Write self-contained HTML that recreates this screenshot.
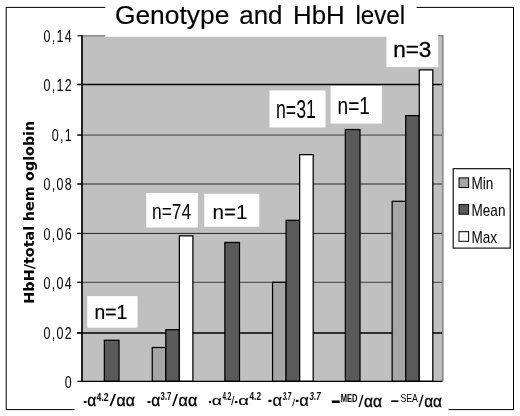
<!DOCTYPE html><html><head><meta charset="utf-8"><title>Genotype and HbH level</title>
<style>html,body{margin:0;padding:0;background:#fff}svg{display:block;filter:blur(0.45px)}text{font-family:"Liberation Sans",sans-serif;fill:#000}.b{font-weight:bold}.dj{font-family:"DejaVu Sans","Liberation Sans",sans-serif;font-weight:bold}</style></head><body>
<svg width="520" height="416" viewBox="0 0 520 416">
<rect x="0" y="0" width="520" height="416" fill="#fff"/>
<rect x="6.2" y="7.4" width="507.3" height="402.20000000000005" fill="none" stroke="#000" stroke-width="1"/>
<rect x="74.5" y="386" width="374.0" height="30" fill="#fff"/>
<rect x="82.0" y="35.3" width="361.5" height="346.0" fill="#c0c0c0"/>
<path d="M82.0 35.8H442.7V381.3" fill="none" stroke="#8a8a8a" stroke-width="1.6"/>
<rect x="105.3" y="0" width="311.3" height="36.8" fill="#fff"/>
<line x1="77.2" y1="84.5" x2="442.0" y2="84.5" stroke="#000" stroke-width="1.6"/>
<line x1="77.2" y1="135.1" x2="442.0" y2="135.1" stroke="#333" stroke-width="0.9"/>
<line x1="77.2" y1="184.0" x2="442.0" y2="184.0" stroke="#222" stroke-width="1.0"/>
<line x1="77.2" y1="233.4" x2="442.0" y2="233.4" stroke="#222" stroke-width="1.0"/>
<line x1="77.2" y1="282.3" x2="442.0" y2="282.3" stroke="#333" stroke-width="0.9"/>
<line x1="77.2" y1="333.0" x2="442.0" y2="333.0" stroke="#000" stroke-width="1.7"/>
<rect x="104.35" y="340.25" width="14.65" height="41.06" fill="#5a5a5a" stroke="#000" stroke-width="1.25"/>
<rect x="152.25" y="347.49" width="13.55" height="33.81" fill="#a6a6a6" stroke="#000" stroke-width="1.25"/>
<rect x="165.80" y="329.70" width="13.55" height="51.60" fill="#5a5a5a" stroke="#000" stroke-width="1.25"/>
<rect x="179.35" y="235.84" width="13.55" height="145.46" fill="#ffffff" stroke="#000" stroke-width="1.25"/>
<rect x="224.85" y="242.45" width="14.65" height="138.85" fill="#5a5a5a" stroke="#000" stroke-width="1.25"/>
<rect x="272.55" y="282.30" width="13.55" height="99.00" fill="#a6a6a6" stroke="#000" stroke-width="1.25"/>
<rect x="286.10" y="220.31" width="13.55" height="160.99" fill="#5a5a5a" stroke="#000" stroke-width="1.25"/>
<rect x="299.65" y="154.66" width="13.55" height="226.64" fill="#ffffff" stroke="#000" stroke-width="1.25"/>
<rect x="345.35" y="129.53" width="14.65" height="251.77" fill="#5a5a5a" stroke="#000" stroke-width="1.25"/>
<rect x="392.15" y="201.29" width="13.55" height="180.01" fill="#a6a6a6" stroke="#000" stroke-width="1.25"/>
<rect x="405.70" y="115.62" width="13.55" height="265.68" fill="#5a5a5a" stroke="#000" stroke-width="1.25"/>
<rect x="419.25" y="69.89" width="13.55" height="311.41" fill="#ffffff" stroke="#000" stroke-width="1.25"/>
<line x1="82.0" y1="35.3" x2="82.0" y2="381.3" stroke="#000" stroke-width="1.7"/>
<line x1="77.4" y1="381.3" x2="442.5" y2="381.3" stroke="#000" stroke-width="1.3"/>
<line x1="77.4" y1="35.8" x2="82.0" y2="35.8" stroke="#000" stroke-width="1.1"/>
<line x1="77.4" y1="84.5" x2="82.0" y2="84.5" stroke="#000" stroke-width="1.1"/>
<line x1="77.4" y1="135.1" x2="82.0" y2="135.1" stroke="#000" stroke-width="1.1"/>
<line x1="77.4" y1="184.0" x2="82.0" y2="184.0" stroke="#000" stroke-width="1.1"/>
<line x1="77.4" y1="233.4" x2="82.0" y2="233.4" stroke="#000" stroke-width="1.1"/>
<line x1="77.4" y1="282.3" x2="82.0" y2="282.3" stroke="#000" stroke-width="1.1"/>
<line x1="77.4" y1="333.0" x2="82.0" y2="333.0" stroke="#000" stroke-width="1.1"/>
<text transform="translate(72.9,42.1) scale(0.72,1)" font-size="17.4" letter-spacing="1.7" text-anchor="end" fill="#222">0,14</text>
<text transform="translate(72.9,90.8) scale(0.72,1)" font-size="17.4" letter-spacing="1.7" text-anchor="end" fill="#222">0,12</text>
<text transform="translate(72.9,141.4) scale(0.72,1)" font-size="17.4" letter-spacing="1.7" text-anchor="end" fill="#222">0,1</text>
<text transform="translate(72.9,190.3) scale(0.72,1)" font-size="17.4" letter-spacing="1.7" text-anchor="end" fill="#222">0,08</text>
<text transform="translate(72.9,239.7) scale(0.72,1)" font-size="17.4" letter-spacing="1.7" text-anchor="end" fill="#222">0,06</text>
<text transform="translate(72.9,288.6) scale(0.72,1)" font-size="17.4" letter-spacing="1.7" text-anchor="end" fill="#222">0,04</text>
<text transform="translate(72.9,339.3) scale(0.72,1)" font-size="17.4" letter-spacing="1.7" text-anchor="end" fill="#222">0,02</text>
<text transform="translate(72.9,387.6) scale(0.72,1)" font-size="17.4" letter-spacing="1.7" text-anchor="end" fill="#222">0</text>
<text class="dj" transform="translate(34.1,303.7) rotate(-90)" font-size="14.2" textLength="77.9" lengthAdjust="spacingAndGlyphs">HbH/total</text>
<text class="dj" transform="translate(34.1,221.3) rotate(-90)" font-size="14.2" textLength="35.0" lengthAdjust="spacingAndGlyphs">hem</text>
<text class="dj" transform="translate(34.1,180.9) rotate(-90)" font-size="14.2" textLength="60.1" lengthAdjust="spacingAndGlyphs">oglobin</text>
<text transform="translate(114.90,24.3) scale(1.0003,1)" font-size="26.4" stroke="#000" stroke-width="0.15">Genotype</text>
<text transform="translate(239.20,24.3) scale(0.9833,1)" font-size="26.4" stroke="#000" stroke-width="0.15">and</text>
<text transform="translate(293.00,24.3) scale(0.9787,1)" font-size="26.4" stroke="#000" stroke-width="0.15">HbH</text>
<text transform="translate(355.40,24.3) scale(0.9170,1)" font-size="26.4" stroke="#000" stroke-width="0.15">level</text>
<rect x="87.2" y="296.1" width="50.3" height="31.599999999999966" fill="#fff"/>
<text transform="translate(94.5,319) scale(0.9432,1)" font-size="20.5" stroke="#000" stroke-width="0.2">n=1</text>
<rect x="146.25" y="193" width="51.650000000000006" height="34.5" fill="#fff"/>
<text transform="translate(152,218.75) scale(0.8067,1)" font-size="21.6">n=74</text>
<rect x="204.25" y="193.75" width="55.05000000000001" height="33.0" fill="#fff"/>
<text transform="translate(212.5,218.5) scale(0.9825,1)" font-size="21" stroke="#000" stroke-width="0.1">n=1</text>
<rect x="269.5" y="90.5" width="56.0" height="37.0" fill="#fff"/>
<text transform="translate(276,118) scale(0.6964,1)" font-size="25.5">n=31</text>
<rect x="330.6" y="85.9" width="51.299999999999955" height="37.69999999999999" fill="#fff"/>
<text transform="translate(337.5,113.75) scale(0.8223,1)" font-size="23.3" stroke="#000" stroke-width="0.1">n=1</text>
<rect x="386.5" y="30" width="51.69999999999999" height="37.099999999999994" fill="#fff"/>
<text transform="translate(393.2,57.4) scale(0.9877,1)" font-size="22.8" stroke="#000" stroke-width="0.35">n=3</text>
<rect x="453.2" y="168.7" width="57" height="79.4" fill="#fff" stroke="#000" stroke-width="1.1"/>
<rect x="459" y="177.9" width="9.6" height="9.6" fill="#a6a6a6" stroke="#000" stroke-width="1"/>
<text transform="translate(471.6,189.1) scale(0.815,1)" font-size="16.6" fill="#1a1a1a">Min</text>
<rect x="459" y="204.6" width="9.6" height="9.6" fill="#5a5a5a" stroke="#000" stroke-width="1"/>
<text transform="translate(471.6,215.79999999999998) scale(0.815,1)" font-size="16.6" fill="#1a1a1a">Mean</text>
<rect x="459" y="231.7" width="9.6" height="9.6" fill="#ffffff" stroke="#000" stroke-width="1"/>
<text transform="translate(471.6,242.89999999999998) scale(0.815,1)" font-size="16.6" fill="#1a1a1a">Max</text>
<text transform="translate(83.20,406.3) scale(0.6958,1)" font-size="16.4" font-weight="bold">-</text>
<text transform="translate(87.20,406.3) scale(0.9380,1)" font-size="16.6" stroke="#000" stroke-width="0.35">α</text>
<text transform="translate(96.60,400.6) scale(0.7772,1)" font-size="11.2" font-weight="bold">4.2</text>
<text transform="translate(109.40,406.3) scale(1.5219,1)" font-size="15.6">/</text>
<text transform="translate(116.60,406.3) scale(0.9589,1)" font-size="16.6" stroke="#000" stroke-width="0.35">αα</text>
<text transform="translate(147.00,406.3) scale(0.7324,1)" font-size="16.4" font-weight="bold">-</text>
<text transform="translate(151.20,406.3) scale(0.9380,1)" font-size="16.6" stroke="#000" stroke-width="0.35">α</text>
<text transform="translate(160.60,400.3) scale(0.6937,1)" font-size="11.2" font-weight="bold">3.7</text>
<text transform="translate(172.00,406.3) scale(1.3835,1)" font-size="15.6">/</text>
<text transform="translate(178.60,406.3) scale(0.9745,1)" font-size="16.6" stroke="#000" stroke-width="0.35">αα</text>
<text transform="translate(208.80,406.0) scale(0.4593,1)" font-size="17" font-weight="bold">-</text>
<text transform="translate(211.80,405.3) scale(1.4006,1)" font-size="12.6" stroke="#000" stroke-width="0.1">α</text>
<text transform="translate(222.60,399.9) scale(0.6320,1)" font-size="10" font-weight="bold" font-family="Liberation Serif, serif">4.2</text>
<text transform="translate(231.60,405.4) scale(0.6337,1)" font-size="12.5" font-weight="bold" font-style="italic">/</text>
<text transform="translate(234.60,406.0) scale(0.5829,1)" font-size="17" font-weight="bold">-</text>
<text transform="translate(238.20,405.3) scale(1.4692,1)" font-size="12.6" stroke="#000" stroke-width="0.1">α</text>
<text transform="translate(249.50,399.9) scale(0.8320,1)" font-size="10" font-weight="bold" font-family="Liberation Serif, serif">4.2</text>
<text transform="translate(268.00,406.3) scale(0.6673,1)" font-size="18.0" font-weight="bold">-</text>
<text transform="translate(272.40,406.2) scale(0.9886,1)" font-size="16.8" stroke="#000" stroke-width="0.2">α</text>
<text transform="translate(282.65,399.5) scale(0.5411,1)" font-size="11.3" font-weight="bold" font-style="italic" font-family="Liberation Serif, serif">3.7</text>
<text transform="translate(292.57,405.6) scale(0.7556,1)" font-size="9.5" font-weight="bold" font-style="italic">/</text>
<text transform="translate(295.40,406.3) scale(0.5839,1)" font-size="18.0" font-weight="bold">-</text>
<text transform="translate(299.30,406.2) scale(0.9886,1)" font-size="16.8" stroke="#000" stroke-width="0.2">α</text>
<text transform="translate(309.56,399.5) scale(0.7123,1)" font-size="11.3" font-weight="bold" font-style="italic" font-family="Liberation Serif, serif">3.7</text>
<text transform="translate(331.20,408.6) scale(0.6226,1)" font-size="26" font-weight="bold">–</text>
<text transform="translate(340.80,402.2) scale(0.7201,1)" font-size="10.5" font-weight="bold">MED</text>
<text transform="translate(358.40,406.5) scale(1.1529,1)" font-size="15.6">/</text>
<text transform="translate(364.00,406.5) scale(0.9380,1)" font-size="16.6" stroke="#000" stroke-width="0.35">αα</text>
<text transform="translate(390.40,406.2) scale(0.9442,1)" font-size="16" font-weight="bold">–</text>
<text transform="translate(400.40,402.2) scale(0.8282,1)" font-size="10.5">SEA</text>
<text transform="translate(418.60,406.5) scale(1.1529,1)" font-size="15.6">/</text>
<text transform="translate(424.20,406.5) scale(0.9276,1)" font-size="16.6" stroke="#000" stroke-width="0.35">αα</text>
</svg></body></html>
